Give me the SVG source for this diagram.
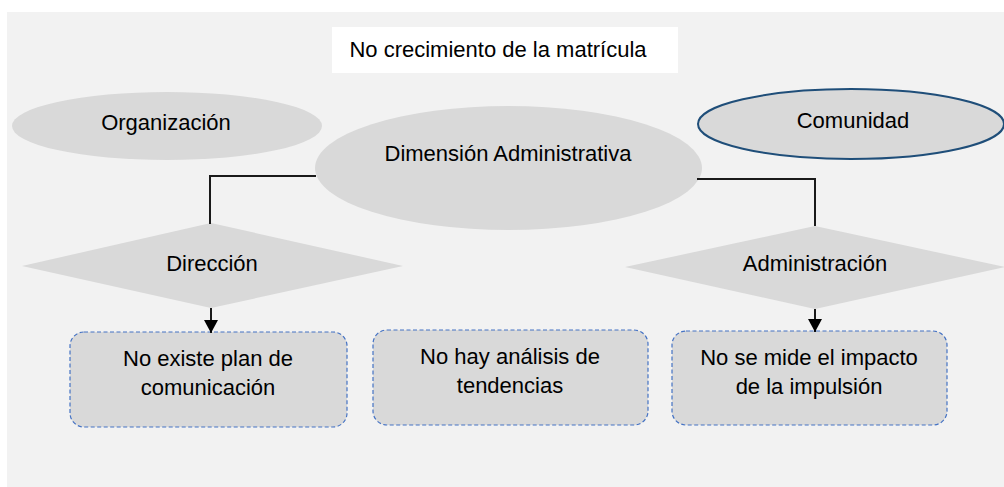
<svg xmlns="http://www.w3.org/2000/svg" width="1004" height="487" viewBox="0 0 1004 487">
<style>
  text { font-family: "Liberation Sans", Arial, sans-serif; font-size: 22px; fill: #000; text-anchor: middle; }
  .shape { fill: #d9d9d9; }
  .box { fill: #d9d9d9; stroke: #4472c4; stroke-width: 1.2; stroke-dasharray: 4 2.5; }
  .conn { fill: none; stroke: #1a1a1a; stroke-width: 2; }
</style>
<defs>
  <marker id="arrow" markerWidth="13" markerHeight="14" refX="13" refY="7" orient="auto" markerUnits="userSpaceOnUse" viewBox="0 0 13 14">
    <path d="M0,0 L13,7 L0,14 Z" fill="#000"/>
  </marker>
</defs>
<rect x="7" y="12" width="997" height="475" fill="#f2f2f2"/>

<g id="title">
  <rect x="332" y="27" width="346" height="46" fill="#ffffff"/>
  <text x="498" y="57">No crecimiento de la matrícula</text>
</g>

<g id="organizacion">
  <ellipse cx="167" cy="126" rx="155" ry="34" class="shape"/>
  <text x="166" y="130">Organización</text>
</g>

<g id="comunidad">
  <ellipse cx="851" cy="124" rx="153" ry="35" class="shape" stroke="#1f4e79" stroke-width="2"/>
  <text x="853" y="128">Comunidad</text>
</g>

<g id="dimension">
  <ellipse cx="508.5" cy="168" rx="193.5" ry="62" class="shape"/>
  <text x="508" y="161">Dimensión Administrativa</text>
</g>

<g id="direccion">
  <polygon points="211,223 403,266 211,308 22,266" class="shape"/>
  <text x="212" y="271">Dirección</text>
</g>

<g id="administracion">
  <polygon points="815,226 1005,267 815,309 625,267" class="shape"/>
  <text x="815" y="271">Administración</text>
</g>

<g id="box1">
  <rect x="70" y="332" width="277" height="95" rx="14" class="box"/>
  <text x="208" y="366">No existe plan de</text>
  <text x="208" y="395">comunicación</text>
</g>

<g id="box2">
  <rect x="373" y="330" width="275" height="95" rx="14" class="box"/>
  <text x="510" y="364">No hay análisis de</text>
  <text x="510" y="393">tendencias</text>
</g>

<g id="box3">
  <rect x="672" y="331" width="275" height="94" rx="14" class="box"/>
  <text x="809" y="365">No se mide el impacto</text>
  <text x="809" y="394">de la impulsión</text>
</g>

<g id="connectors">
  <polyline points="316,176 210,176 210,224" class="conn"/>
  <polyline points="697,179 815,179 815,226" class="conn"/>
  <line x1="211" y1="308" x2="211" y2="333" class="conn" marker-end="url(#arrow)"/>
  <line x1="815" y1="309" x2="815" y2="332" class="conn" marker-end="url(#arrow)"/>
</g>
</svg>
